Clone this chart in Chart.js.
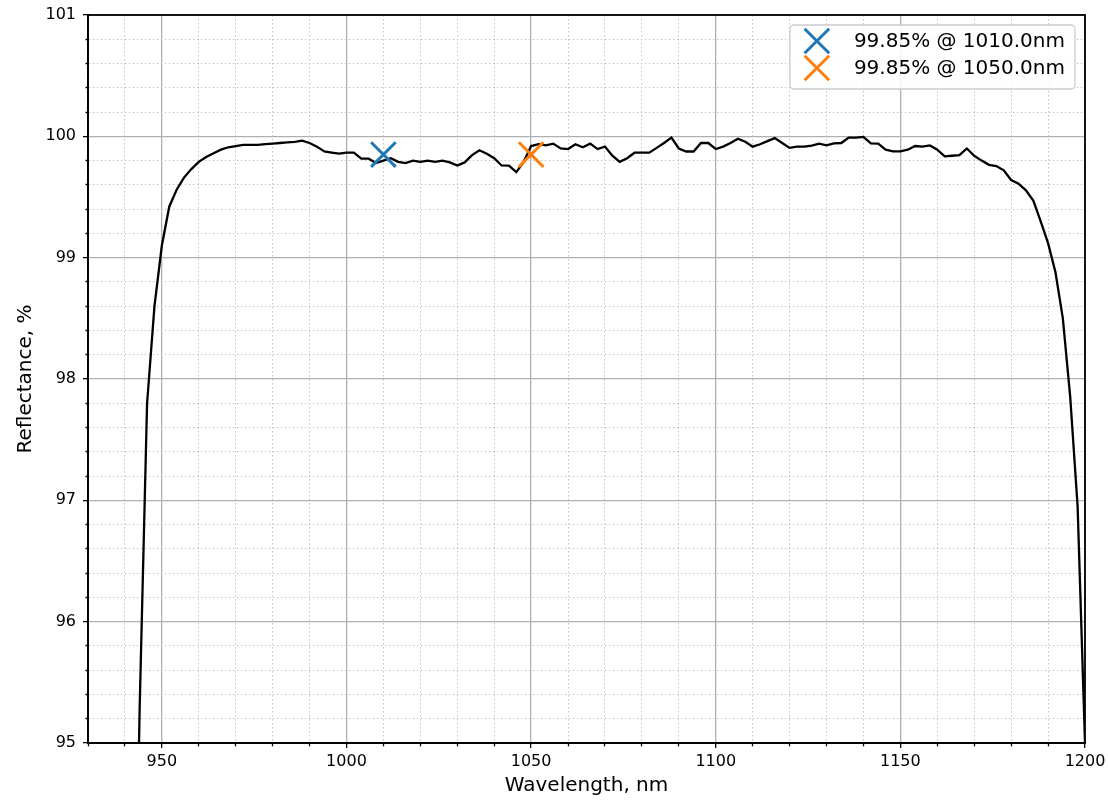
<!DOCTYPE html>
<html>
<head>
<meta charset="utf-8">
<script src="https://cdn.jsdelivr.net/npm/chart.js@4.4.1/dist/chart.umd.min.js"></script>
<style>
  html, body { margin: 0; padding: 0; background: #fff; }
  #wrap { width: 1108px; height: 801px; }
</style>
</head>
<body>
<div id="wrap"><canvas id="chart"></canvas></div>
<script>
// measured spectrum, 2 nm step
const wavelengths = [
    942, 944, 946, 948, 950, 952, 954, 956, 958, 960,
    962, 964, 966, 968, 970, 972, 974, 976, 978, 980,
    982, 984, 986, 988, 990, 992, 994, 996, 998, 1000,
    1002, 1004, 1006, 1008, 1010, 1012, 1014, 1016, 1018, 1020,
    1022, 1024, 1026, 1028, 1030, 1032, 1034, 1036, 1038, 1040,
    1042, 1044, 1046, 1048, 1050, 1052, 1054, 1056, 1058, 1060,
    1062, 1064, 1066, 1068, 1070, 1072, 1074, 1076, 1078, 1080,
    1082, 1084, 1086, 1088, 1090, 1092, 1094, 1096, 1098, 1100,
    1102, 1104, 1106, 1108, 1110, 1112, 1114, 1116, 1118, 1120,
    1122, 1124, 1126, 1128, 1130, 1132, 1134, 1136, 1138, 1140,
    1142, 1144, 1146, 1148, 1150, 1152, 1154, 1156, 1158, 1160,
    1162, 1164, 1166, 1168, 1170, 1172, 1174, 1176, 1178, 1180,
    1182, 1184, 1186, 1188, 1190, 1192, 1194, 1196, 1198, 1200
];
const reflectance = [
    92.0, 95.3, 97.8, 98.6, 99.1, 99.42, 99.56, 99.66, 99.73, 99.79,
    99.83, 99.86, 99.89, 99.91, 99.92, 99.93, 99.93, 99.93, 99.935, 99.94,
    99.945, 99.95, 99.955, 99.965, 99.945, 99.915, 99.875, 99.866, 99.857, 99.865,
    99.865, 99.816, 99.816, 99.78, 99.80, 99.82, 99.79, 99.78, 99.80, 99.79,
    99.80, 99.79, 99.80, 99.785, 99.76, 99.785, 99.845, 99.885, 99.857, 99.82,
    99.76, 99.758, 99.705, 99.79, 99.92, 99.935, 99.925, 99.94, 99.9, 99.895,
    99.935, 99.91, 99.94, 99.895, 99.915, 99.84, 99.79, 99.82, 99.865, 99.865,
    99.865, 99.905, 99.945, 99.99, 99.9, 99.875, 99.875, 99.945, 99.945, 99.895,
    99.915, 99.945, 99.98, 99.955, 99.915, 99.935, 99.96, 99.985, 99.945, 99.905,
    99.915, 99.915, 99.923, 99.94, 99.925, 99.942, 99.945, 99.99, 99.99, 99.995,
    99.942, 99.94, 99.89, 99.876, 99.876, 99.89, 99.92, 99.915, 99.925, 99.89,
    99.835, 99.84, 99.845, 99.9, 99.84, 99.8, 99.765, 99.755, 99.72, 99.64,
    99.61, 99.555, 99.47, 99.3, 99.12, 98.88, 98.5, 97.85, 96.95, 95.0
];

const markerWavelengths = [1010, 1050];
const markerValues = [99.85, 99.85];
const markerColors = ['#1f77b4', '#ff7f0e'];

const xTickLabels = [950, 1000, 1050, 1100, 1150, 1200];
const yTickLabels = [95, 96, 97, 98, 99, 100, 101];

const FONT = '"DejaVu Sans", "Liberation Sans", sans-serif';

function isMajorX(v) { return xTickLabels.includes(Math.round(v)); }
function isMajorY(v) { return Math.abs(v - Math.round(v)) < 1e-6; }

function markerLabel(i) {
    return markerValues[i].toFixed(2) + '% @ ' + markerWavelengths[i].toFixed(1) + 'nm';
}

function drawCross(ctx, x, y, half, color) {
    ctx.save();
    ctx.strokeStyle = color;
    ctx.lineWidth = 3;
    ctx.beginPath();
    ctx.moveTo(x - half, y - half);
    ctx.lineTo(x + half, y + half);
    ctx.moveTo(x - half, y + half);
    ctx.lineTo(x + half, y - half);
    ctx.stroke();
    ctx.restore();
}

// black frame on all four sides + boxed legend, like matplotlib
const framePlugin = {
    id: 'frame',
    afterDatasetsDraw(chart) {
        const {ctx, chartArea: a} = chart;
        ctx.save();
        ctx.strokeStyle = '#000';
        ctx.lineWidth = 1.8;
        ctx.strokeRect(a.left, a.top, a.right - a.left, a.bottom - a.top);
        ctx.restore();
    },
    afterDraw(chart) {
        const {ctx, chartArea: a} = chart;
        ctx.save();
        ctx.font = '20px ' + FONT;
        let textW = 0;
        markerWavelengths.forEach((w, i) => {
            textW = Math.max(textW, ctx.measureText(markerLabel(i)).width);
        });
        const padL = 27, gap = 37, padR = 10, rowH = 27;
        const w = padL + gap + textW + padR;
        const h = 64;
        const x0 = a.right - 10 - w;
        const y0 = a.top + 10;
        ctx.beginPath();
        ctx.roundRect(x0, y0, w, h, 4);
        ctx.fillStyle = 'rgba(255,255,255,0.85)';
        ctx.fill();
        ctx.strokeStyle = '#cccccc';
        ctx.lineWidth = 1.3;
        ctx.stroke();
        markerWavelengths.forEach((wl, i) => {
            const cy = y0 + 16 + i * rowH;
            drawCross(ctx, x0 + padL, cy, 12.3, markerColors[i]);
            ctx.fillStyle = '#000';
            ctx.textBaseline = 'middle';
            ctx.textAlign = 'left';
            ctx.fillText(markerLabel(i), x0 + padL + gap, cy + 1);
        });
        ctx.restore();
    }
};

const ctx = document.getElementById('chart').getContext('2d');

let chart = new Chart(ctx, {
    type: 'line',
    data: {
        datasets: [
            {
                label: 'spectrum',
                data: wavelengths.map((w, i) => ({x: w, y: reflectance[i]})),
                borderColor: '#000',
                borderWidth: 2.3,
                pointRadius: 0,
                tension: 0,
                fill: false,
                order: 2
            },
            ...markerWavelengths.map((w, i) => ({
                type: 'scatter',
                label: markerLabel(i),
                data: [{x: w, y: markerValues[i]}],
                pointStyle: 'crossRot',
                pointRadius: 17.4,
                pointBorderWidth: 3,
                borderWidth: 3,
                borderColor: markerColors[i],
                backgroundColor: markerColors[i],
                showLine: false,
                order: 0
            }))
        ]
    },
    options: {
        animation: false,
        responsive: true,
        maintainAspectRatio: false,
        layout: { autoPadding: false, padding: { top: 15, right: 23, left: 0, bottom: 0 } },
        plugins: {
            legend: { display: false },
            tooltip: { enabled: false }
        },
        scales: {
            x: {
                type: 'linear',
                min: 930,
                max: 1200,
                afterFit(scale) {
                    scale.height = 58;
                    scale.paddingLeft = 0;
                    scale.paddingRight = 0;
                },
                ticks: {
                    stepSize: 10,
                    maxTicksLimit: 100,
                    autoSkip: false,
                    maxRotation: 0,
                    padding: 4,
                    color: '#000',
                    font: { family: FONT, size: 16 },
                    callback: v => isMajorX(v) ? String(v) : ''
                },
                grid: {
                    color: c => isMajorX(c.tick.value) ? '#b0b0b0' : '#c4c4c4',
                    lineWidth: c => isMajorX(c.tick.value) ? 1.3 : 1.0,
                    tickLength: 5,
                    tickColor: '#000',
                    tickWidth: 1.3,
                    tickBorderDash: c => isMajorX(c.tick.value) ? [] : [2.5, 30]
                },
                border: {
                    color: '#000',
                    width: 1.8,
                    dash: c => (c.tick && !isMajorX(c.tick.value)) ? [1.5, 2.5] : []
                },
                title: {
                    display: true,
                    text: 'Wavelength, nm',
                    color: '#000',
                    font: { family: FONT, size: 20 },
                    padding: { top: 0, bottom: 3 }
                }
            },
            y: {
                type: 'linear',
                min: 95,
                max: 101,
                afterFit(scale) {
                    scale.width = 88;
                    scale.paddingTop = 0;
                    scale.paddingBottom = 0;
                },
                ticks: {
                    stepSize: 0.2,
                    maxTicksLimit: 100,
                    autoSkip: false,
                    padding: 7,
                    color: '#000',
                    font: { family: FONT, size: 16 },
                    callback: v => {
                        const r = Math.round(v);
                        return (isMajorY(v) && yTickLabels.includes(r)) ? String(r) : '';
                    }
                },
                grid: {
                    color: c => isMajorY(c.tick.value) ? '#b0b0b0' : '#c4c4c4',
                    lineWidth: c => isMajorY(c.tick.value) ? 1.3 : 1.0,
                    tickLength: 5,
                    tickColor: '#000',
                    tickWidth: 1.3,
                    tickBorderDash: c => isMajorY(c.tick.value) ? [] : [0, 2.5, 2.5, 30]
                },
                border: {
                    color: '#000',
                    width: 1.8,
                    dash: c => (c.tick && !isMajorY(c.tick.value)) ? [1.5, 2.5] : []
                },
                title: {
                    display: true,
                    text: 'Reflectance, %',
                    color: '#000',
                    font: { family: FONT, size: 20 },
                    padding: { top: 14, bottom: 0 }
                }
            }
        }
    },
    plugins: [framePlugin]
});
</script>
</body>
</html>
